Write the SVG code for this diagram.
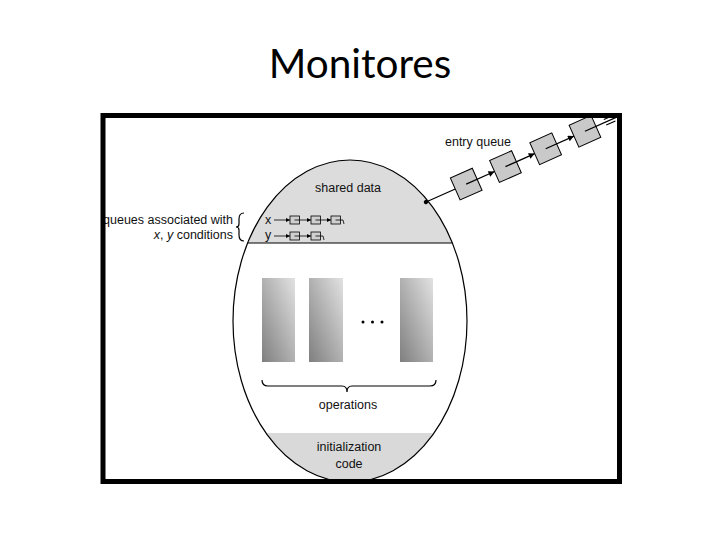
<svg xmlns="http://www.w3.org/2000/svg" width="720" height="540" viewBox="0 0 720 540">
<style>
.t{font-family:"Liberation Sans",Arial,sans-serif;font-size:12.5px;fill:#111}
.ln{stroke:#000;stroke-width:1.2;fill:none}
.sq{fill:#c9c9c9;stroke:#000;stroke-width:1}
.qb{fill:#cfcfcf;stroke:#000;stroke-width:0.8}
.ql{stroke:#000;stroke-width:0.8;fill:none}
.op{fill:url(#g)}
</style>
<defs>
<marker id="ah" viewBox="0 0 10 10" refX="10" refY="5" markerWidth="7" markerHeight="6" orient="auto" markerUnits="userSpaceOnUse">
<path d="M0,0 L10,5 L0,10 z" fill="#000"/>
</marker>
<marker id="ahs" viewBox="0 0 10 10" refX="10" refY="5" markerWidth="4" markerHeight="4" orient="auto" markerUnits="userSpaceOnUse">
<path d="M0,0 L10,5 L0,10 z" fill="#000"/>
</marker>
<linearGradient id="g" x1="0" y1="1" x2="1" y2="0">
<stop offset="0" stop-color="#7f7f7f"/>
<stop offset="1" stop-color="#e2e2e2"/>
</linearGradient>
<clipPath id="ec"><ellipse cx="350" cy="321" rx="117" ry="161"/></clipPath>
</defs>
<rect width="720" height="540" fill="#fff"/>
<text x="360" y="78" text-anchor="middle" style="font-family:Lato,'Open Sans','Liberation Sans',sans-serif;font-size:40.5px;fill:#000">Monitores</text>

<g id="monitor">
<ellipse cx="350" cy="321" rx="117" ry="161" fill="#fff"/>
<g clip-path="url(#ec)">
<rect x="220" y="150" width="260" height="93" fill="#dcdcdc"/>
<rect x="220" y="433" width="260" height="60" fill="#d9d9d9"/>
<line x1="220" y1="243" x2="480" y2="243" stroke="#000" stroke-width="1.2"/>
</g>
<ellipse cx="350" cy="321" rx="117" ry="161" class="ln" stroke-width="1.3"/>
</g>

<g id="shared-data">
<text class="t" x="348" y="192" text-anchor="middle">shared data</text>
</g>

<g id="operations">
<rect class="op" x="262" y="278" width="33" height="84"/>
<rect class="op" x="309" y="278" width="34" height="84"/>
<rect class="op" x="400" y="278" width="33" height="84"/>
<circle cx="363" cy="322" r="1.5" fill="#000"/>
<circle cx="372.5" cy="322" r="1.5" fill="#000"/>
<circle cx="382" cy="322" r="1.5" fill="#000"/>
<path class="ln" stroke-width="1" d="M262,380 Q262,386 268,386 L342,386 Q347,386 347,392 Q347,386 352,386 L430,386 Q436,386 436,380"/>
<text class="t" x="348" y="409" text-anchor="middle">operations</text>
</g>

<g id="init-code">
<text class="t" x="349" y="451" text-anchor="middle">initialization</text>
<text class="t" x="349" y="468" text-anchor="middle">code</text>
</g>

<g id="condition-queues">
<text class="t" x="233" y="224" text-anchor="end">queues associated with</text>
<text class="t" x="233" y="239" text-anchor="end"><tspan font-style="italic">x</tspan>, <tspan font-style="italic">y</tspan> conditions</text>
<path class="ln" stroke-width="1" d="M244,213 Q239,213 239,219 L239,224 Q239,227 236,227 Q239,227 239,230 L239,235 Q239,241 244,241"/>
<text class="t" x="265" y="224">x</text>
<text class="t" x="265" y="239">y</text>
</g>

<g id="connectors">
<g id="x-queue">
<line class="ql" x1="274" y1="220" x2="290" y2="220" marker-end="url(#ahs)"/>
<rect class="qb" x="290" y="216" width="9.5" height="8"/>
<line class="ql" x1="294.5" y1="220" x2="311" y2="220" marker-end="url(#ahs)"/>
<rect class="qb" x="311" y="216" width="9.5" height="8"/>
<line class="ql" x1="315.5" y1="220" x2="331" y2="220" marker-end="url(#ahs)"/>
<rect class="qb" x="331" y="216" width="9.5" height="8"/>
<path class="ql" d="M335.5,220 L343,220 L344,224"/>
</g>
<g id="y-queue">
<line class="ql" x1="274" y1="236" x2="290" y2="236" marker-end="url(#ahs)"/>
<rect class="qb" x="290" y="232" width="9.5" height="8"/>
<line class="ql" x1="294.5" y1="236" x2="311" y2="236" marker-end="url(#ahs)"/>
<rect class="qb" x="311" y="232" width="9.5" height="8"/>
<path class="ql" d="M315.5,236 L323,236 L324,240"/>
</g>
<g id="entry-queue" transform="translate(426,202) rotate(-24)">
<circle cx="0" cy="0" r="2.2" fill="#000"/>
<line class="ln" x1="0" y1="0" x2="32" y2="0"/>
<rect class="sq" x="32" y="-12" width="24" height="24"/>
<line class="ln" x1="44" y1="0" x2="75" y2="0" marker-end="url(#ah)"/>
<rect class="sq" x="75" y="-12" width="24" height="24"/>
<line class="ln" x1="87" y1="0" x2="119" y2="0" marker-end="url(#ah)"/>
<rect class="sq" x="119" y="-12" width="24" height="24"/>
<line class="ln" x1="131" y1="0" x2="162" y2="0" marker-end="url(#ah)"/>
<rect class="sq" x="162" y="-12" width="24" height="24"/>
<line class="ln" x1="174" y1="0" x2="210" y2="0"/>
<line class="ln" x1="196" y1="-3" x2="206" y2="-3"/>
<line class="ln" x1="196" y1="3" x2="206" y2="3"/>
</g>
</g>
<text class="t" x="478" y="146" text-anchor="middle">entry queue</text>

<rect x="103" y="115.5" width="516.5" height="366" fill="none" stroke="#000" stroke-width="5"/>
</svg>
